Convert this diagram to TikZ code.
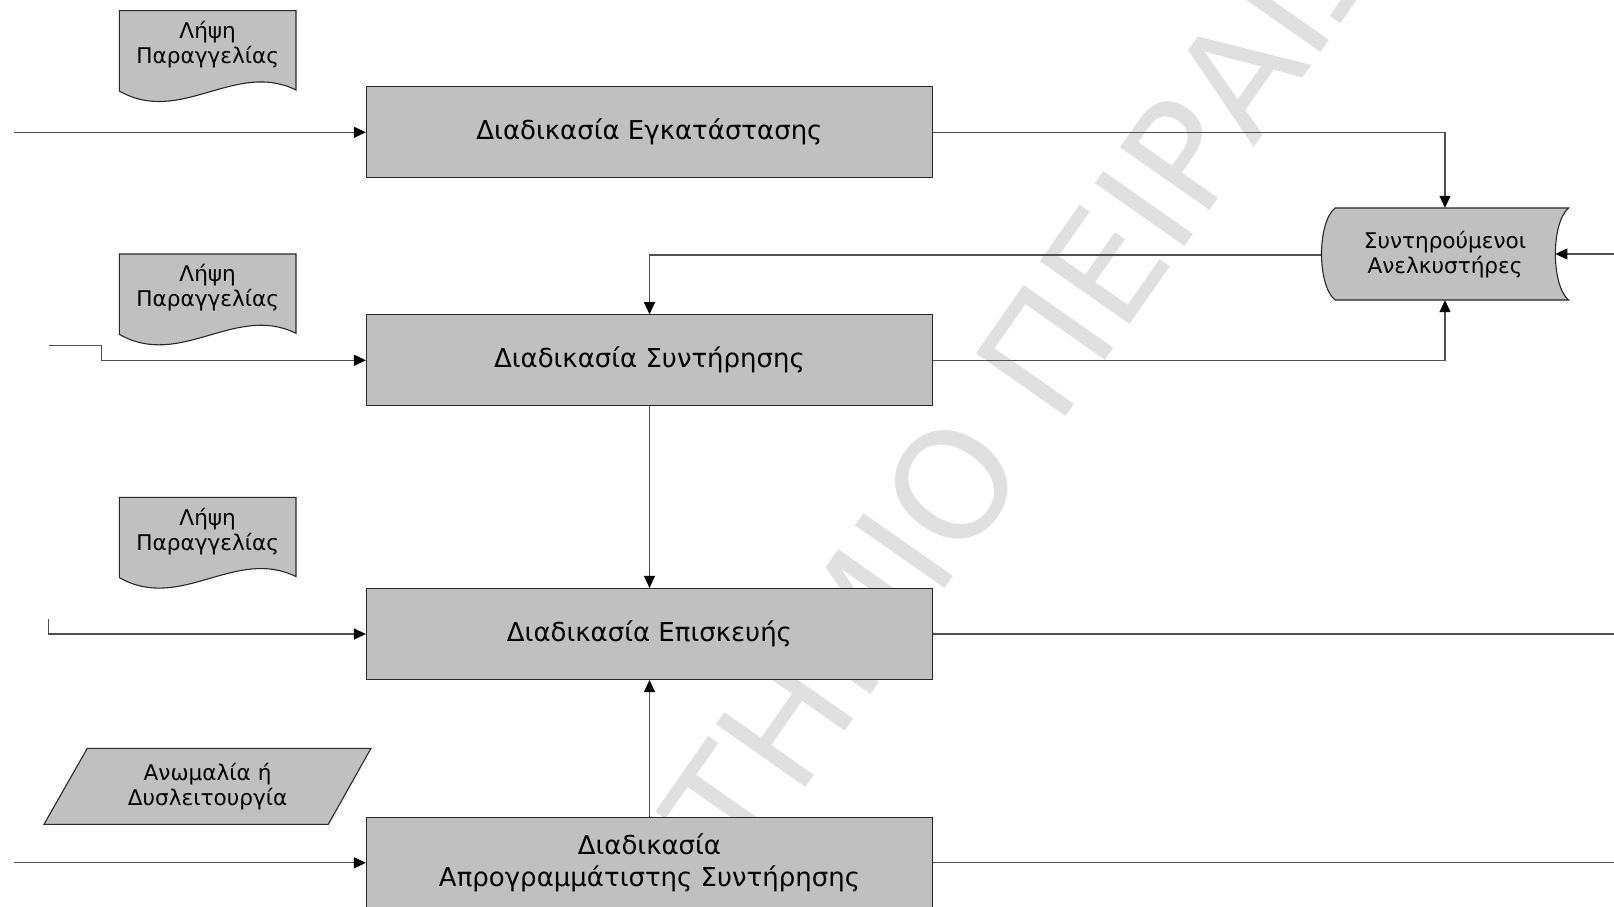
\documentclass[tikz,border=0pt]{standalone}
\usepackage{fontspec}
\setmainfont{DejaVu Sans}
\usetikzlibrary{arrows.meta}
\definecolor{boxfill}{RGB}{192,192,192}
\definecolor{linegray}{RGB}{80,80,80}
\definecolor{edgegray}{RGB}{40,40,40}
\definecolor{wmgray}{RGB}{224,224,224}
\tikzset{
  procbox/.style={draw=edgegray, line width=1.2pt, fill=boxfill, minimum width=566pt, minimum height=91pt, inner sep=0pt, font=\fontsize{26}{32}\selectfont, align=center},
  smalltext/.style={inner sep=0pt, font=\fontsize{21.6}{25}\selectfont, align=center},
  shapeline/.style={draw=edgegray, line width=1.1pt, fill=boxfill},
  conn/.style={draw=linegray, line width=1.2pt},
  arr/.style={conn, -{Triangle[length=12pt,width=11pt,color=black,fill=black]}},
  wmtext/.style={text=wmgray, inner sep=0pt, font=\fontsize{150}{150}\selectfont},
  docshape/.pic={
    \path[shapeline] (0,0) -- (176.7,0) -- (176.7,79.3) .. controls (116,49.3) and (61,115.3) .. (0,80.3) -- cycle;
    \node[smalltext] (-t) at (88.4,34) {#1};
  }
}
\begin{document}
\begin{tikzpicture}[x=1pt,y=-1pt]
\useasboundingbox (0,0) rectangle (1614,907);
\begin{scope}
\clip (0,0) rectangle (1614,907);
\fill[white] (0,0) rectangle (1614,907);
% watermark
\node[wmtext, rotate=55, anchor=base west] (wm) at (1057,429) {\llap{ΠΑΝΕΠΙΣΤΗΜΙΟ\ }ΠΕΙΡΑΙΩΣ};

% documents
\pic (d1) at (119.3,10.7) {docshape={Λήψη\\Παραγγελίας}};
\pic (d2) at (119.3,254) {docshape={Λήψη\\Παραγγελίας}};
\pic (d3) at (119.3,497.3) {docshape={Λήψη\\Παραγγελίας}};

% parallelogram
\path[shapeline] (87.3,748.3) -- (371,748.3) -- (328.3,824.3) -- (44,824.3) -- cycle;
\node[smalltext] (p) at (207.6,786.3) {Ανωμαλία ή\\Δυσλειτουργία};

% stored data
\path[shapeline] (1335,208) -- (1568.5,208) .. controls (1551,223) and (1551,285) .. (1568.5,300) -- (1335,300) .. controls (1317,285) and (1317,223) .. (1335,208) -- cycle;
\node[smalltext, minimum width=247pt, minimum height=92pt] (s) at (1445,254.5) {Συντηρούμενοι\\Ανελκυστήρες};

% process boxes
\node[procbox] (b1) at (649.5,132.3) {Διαδικασία Εγκατάστασης};
\node[procbox] (b2) at (649.5,360.3) {Διαδικασία Συντήρησης};
\node[procbox] (b3) at (649.5,634) {Διαδικασία Επισκευής};
\node[procbox] (b4) at (649.5,862.8) {Διαδικασία\\Απρογραμμάτιστης Συντήρησης};

% connector end points
\coordinate (in1) at (14,132.3);
\coordinate (in2) at (49.3,345.3);
\coordinate (k2) at (101.7,345.3);
\coordinate (in3) at (48.3,619.3);
\coordinate (in4) at (14,862.8);
\coordinate (out3) at (1614,634);
\coordinate (out4) at (1614,862.8);
\coordinate (inS) at (1614,254);
\coordinate (sR) at (1555.4,254);

% connectors
\draw[arr] (in1) -- (b1.west);
\draw[arr] (b1.east) -| ([yshift=0.5pt]s.north);
\draw[arr] ([yshift=-0.5pt]s.west) -| (b2.north);
\draw[arr] (b2.east) -| ([yshift=0.5pt]s.south);
\draw[arr] (in2) -- (k2) |- (b2.west);
\draw[arr] (in3) |- (b3.west);
\draw[arr] (in4) -- (b4.west);
\draw[arr] (b2.south) -- (b3.north);
\draw[arr] (b4.north) -- (b3.south);
\draw[conn] (b3.east) -- (out3);
\draw[conn] (b4.east) -- (out4);
\draw[arr] (inS) -- (sR);
\end{scope}
\end{tikzpicture}
\end{document}
